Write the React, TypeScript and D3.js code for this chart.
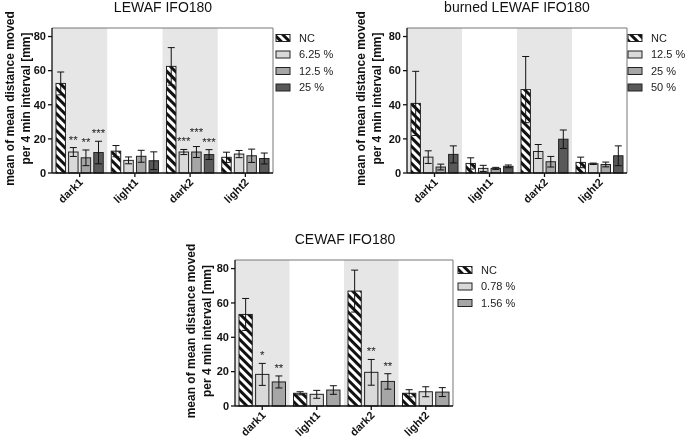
import * as d3 from "d3"

const categories = ["dark1", "light1", "dark2", "light2"]
const yTicks = [0, 20, 40, 60, 80]

// LEWAF IFO180
const lewafSeries = ["NC", "6.25 %", "12.5 %", "25 %"]
const lewafMeans = [
  [52.5, 12.8, 62.5, 9.2],
  [12.3, 7.4, 12.3, 11.1],
  [8.9, 9.8, 12.3, 10.1],
  [12.0, 7.2, 10.8, 8.5],
]
const lewafErr = [
  [6.7, 3.3, 11.0, 3.0],
  [2.6, 2.0, 1.5, 2.1],
  [4.6, 3.5, 3.2, 3.9],
  [6.6, 5.2, 2.9, 3.2],
]
const lewafStars = [
  ["", "", "", ""],
  ["**", "", "***", ""],
  ["**", "", "***", ""],
  ["***", "", "***", ""],
]

// burned LEWAF IFO180
const burnedSeries = ["NC", "12.5 %", "25 %", "50 %"]
const burnedMeans = [
  [40.8, 5.6, 48.9, 6.2],
  [9.3, 2.7, 12.6, 5.4],
  [3.5, 2.7, 6.6, 5.0],
  [10.9, 3.9, 19.8, 10.1],
]
const burnedErr = [
  [18.8, 3.3, 19.4, 3.1],
  [3.7, 1.8, 4.1, 0.4],
  [1.7, 0.6, 3.1, 1.4],
  [5.0, 0.8, 5.4, 5.8],
]
const burnedStars = [
  ["", "", "", ""],
  ["", "", "", ""],
  ["", "", "", ""],
  ["", "", "", ""],
]

// CEWAF IFO180
const cewafSeries = ["NC", "0.78 %", "1.56 %"]
const cewafMeans = [
  [53.3, 7.4, 66.9, 7.4],
  [18.4, 6.8, 19.6, 8.3],
  [14.0, 9.3, 14.3, 8.1],
]
const cewafErr = [
  [9.3, 0.9, 12.2, 2.1],
  [6.4, 2.3, 7.5, 2.9],
  [3.5, 2.5, 4.5, 2.6],
]
const cewafStars = [
  ["", "", "", ""],
  ["*", "", "**", ""],
  ["**", "", "**", ""],
]

const fills = ["url(#hatch)", "#d9d9d9", "#a6a6a6", "#595959"]
const font = "'Liberation Sans', Arial, sans-serif"
const starW = 4.3 // approx width of one asterisk at 11px

interface PanelProps {
  title: string
  series: string[]
  means: number[][]
  errs: number[][]
  stars: string[][]
  left: number
  right: number
  top: number
  bottom: number
  titleX: number
  labelX: number
  legendX: number
}

function Panel({ title, series, means, errs, stars, left, right, top, bottom, titleX, labelX, legendX }: PanelProps) {
  const x0 = d3.scaleBand().domain(categories).range([left, right])
  const bw = x0.bandwidth()
  const x1 = d3.scaleBand().domain(series).range([4, bw - 4]).paddingInner(series.length > 3 ? 0.25 : 0.2)
  const y = d3.scaleLinear().domain([0, 85]).range([bottom, top])
  const cy = (top + bottom) / 2 - 2
  const step = x1.step()

  // star label positions, staggered when neighbours would collide
  const starY: number[][] = series.map(() => categories.map(() => 0))
  categories.forEach((c, ci) => {
    let prev: { y: number; n: number } | null = null
    series.forEach((s, si) => {
      const st = stars[si][ci]
      if (!st) { prev = null; return }
      let sy = y(means[si][ci] + errs[si][ci]) - 4
      if (prev && (prev.n + st.length) * starW / 2 > step - 1 && Math.abs(prev.y - sy) < 9) {
        sy = Math.min(sy, prev.y - 9)
      }
      starY[si][ci] = sy
      prev = { y: sy, n: st.length }
    })
  })

  return (
    <g fontFamily={font}>
      <text x={titleX} y={top - 16} textAnchor="middle" fontSize={14} fill="#111">{title}</text>

      {categories.map((c, i) => i % 2 === 0 ? (
        <rect key={c} x={x0(c)} y={top} width={bw} height={bottom - top} fill="#e6e6e6" />
      ) : null)}

      {/* frame */}
      <line x1={left} x2={right} y1={top} y2={top} stroke="#777" />
      <line x1={right} x2={right} y1={top} y2={bottom} stroke="#777" />

      {series.map((s, si) => categories.map((c, ci) => {
        const bx = (x0(c) as number) + (x1(s) as number)
        const w = x1.bandwidth()
        const m = means[si][ci]
        const e = errs[si][ci]
        const mid = bx + w / 2
        const yt = y(m + e)
        const yb = y(Math.max(0, m - e))
        return (
          <g key={s + c}>
            <rect x={bx} y={y(m)} width={w} height={y(0) - y(m)} fill={fills[si]} stroke="#222" strokeWidth={1} />
            <line x1={mid} x2={mid} y1={yt} y2={yb} stroke="#111" strokeWidth={1} />
            <line x1={mid - 3.5} x2={mid + 3.5} y1={yt} y2={yt} stroke="#111" strokeWidth={1} />
            <line x1={mid - 3.5} x2={mid + 3.5} y1={yb} y2={yb} stroke="#111" strokeWidth={1} />
            {stars[si][ci] && (
              <text x={mid} y={starY[si][ci]} textAnchor="middle" fontSize={11.5} fill="#222">{stars[si][ci]}</text>
            )}
          </g>
        )
      }))}

      {/* y axis */}
      <line x1={left} x2={left} y1={top} y2={bottom} stroke="#111" strokeWidth={1.3} />
      {yTicks.map((t) => (
        <g key={t}>
          <line x1={left - 4} x2={left} y1={y(t)} y2={y(t)} stroke="#111" strokeWidth={1.3} />
          <text x={left - 6} y={y(t)} dy="0.35em" textAnchor="end" fontSize={11} fontWeight="bold" fill="#111">{t}</text>
        </g>
      ))}

      {/* x axis */}
      <line x1={left} x2={right} y1={bottom} y2={bottom} stroke="#111" strokeWidth={1.3} />
      {categories.map((c) => {
        const cx = (x0(c) as number) + bw / 2
        return (
          <g key={c}>
            <line x1={cx} x2={cx} y1={bottom} y2={bottom + 4} stroke="#111" strokeWidth={1.3} />
            <text transform={`translate(${cx + 4},${bottom + 10}) rotate(-45)`} textAnchor="end" fontSize={11} fontWeight="bold" fill="#111">{c}</text>
          </g>
        )
      })}

      <text transform={`translate(${labelX},${cy}) rotate(-90)`} textAnchor="middle" fontSize={12} fontWeight="bold" fill="#111">mean of mean distance moved</text>
      <text transform={`translate(${labelX + 16},${cy}) rotate(-90)`} textAnchor="middle" fontSize={12} fontWeight="bold" fill="#111">per 4 min interval [mm]</text>

      {series.map((s, si) => {
        const ly = top + 10 + si * 16.5
        return (
          <g key={s}>
            <rect x={legendX} y={ly - 3.5} width={14} height={7} fill={fills[si]} stroke="#222" />
            <text x={legendX + 23} y={ly} dy="0.35em" fontSize={11} fill="#222">{s}</text>
          </g>
        )
      })}
    </g>
  )
}

export default function App() {
  return (
    <svg width={685} height={440} style={{ position: "absolute", left: 0, top: 0, background: "#fff" }}>
      <defs>
        <pattern id="hatch" patternUnits="userSpaceOnUse" width={6} height={6} patternTransform="rotate(-45)">
          <rect x={0} y={0} width={6} height={6} fill="#fff" />
          <rect x={0} y={0} width={3} height={6} fill="#111" />
        </pattern>
      </defs>
      <g opacity={0.999}>
        <Panel title="LEWAF IFO180" series={lewafSeries} means={lewafMeans} errs={lewafErr} stars={lewafStars}
          left={52} right={273} top={28} bottom={173} titleX={163} labelX={14} legendX={276} />
        <Panel title="burned LEWAF IFO180" series={burnedSeries} means={burnedMeans} errs={burnedErr} stars={burnedStars}
          left={407} right={627} top={28} bottom={173} titleX={517} labelX={365} legendX={628} />
        <Panel title="CEWAF IFO180" series={cewafSeries} means={cewafMeans} errs={cewafErr} stars={cewafStars}
          left={235} right={453} top={260} bottom={406} titleX={345} labelX={195} legendX={458} />
      </g>
    </svg>
  )
}
